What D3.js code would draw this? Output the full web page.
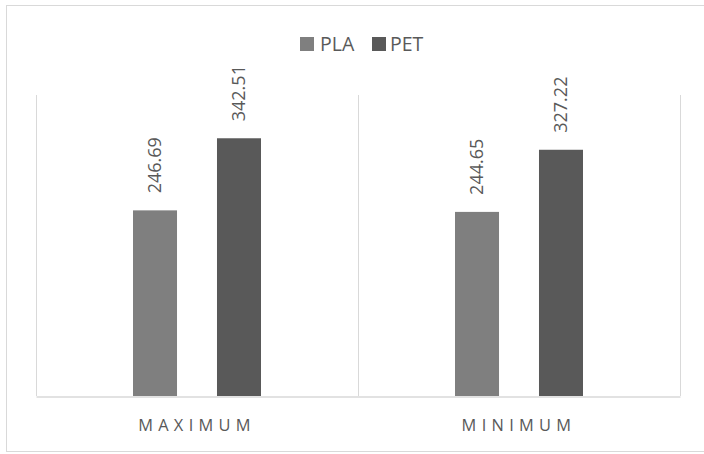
<!DOCTYPE html>
<html>
<head>
<meta charset="utf-8">
<script src="https://cdn.jsdelivr.net/npm/d3@7"></script>
<style>
  body { margin: 0; background: #fff; }
  svg { display: block; font-family: "Open Sans", sans-serif; }
</style>
</head>
<body>
<div id="chart"></div>
<script>
// Data
const categories = ["MAXIMUM", "MINIMUM"];
const seriesNames = ["PLA", "PET"];
const plaValues = [246.69, 244.65];
const petValues = [342.51, 327.22];
const seriesColors = ["#7f7f7f", "#595959"];

const svgWidth = 704, svgHeight = 454;
const plot = { left: 36, right: 680, top: 95, bottom: 396 };

const svg = d3.select("#chart")
    .append("svg")
    .attr("width", svgWidth)
    .attr("height", svgHeight);

// Outer chart border
svg.append("rect")
    .attr("x", 6.5)
    .attr("y", 5.5)
    .attr("width", 710)
    .attr("height", 446)
    .attr("fill", "none")
    .attr("stroke", "#d9d9d9");

// Build rows from the arrays
const rows = categories.map((c, i) => ({
    category: c,
    values: [
        { key: "PLA", value: plaValues[i] },
        { key: "PET", value: petValues[i] }
    ]
}));

// Scales
const x0 = d3.scaleBand()
    .domain(categories)
    .range([plot.left, plot.right])
    .padding(0);

const x1 = d3.scaleBand()
    .domain(seriesNames)
    .range([0, x0.bandwidth()])
    .paddingInner(0.476)
    .paddingOuter(1.155);

const y = d3.scaleLinear()
    .domain([0, 400])
    .range([plot.bottom, plot.top]);

const color = d3.scaleOrdinal()
    .domain(seriesNames)
    .range(seriesColors);

// Vertical separators between categories
const sepX = categories.map(c => x0(c)).concat([plot.right]);
svg.append("g")
    .selectAll("line")
    .data(sepX)
    .enter().append("line")
    .attr("x1", d => Math.round(d) + 0.5)
    .attr("x2", d => Math.round(d) + 0.5)
    .attr("y1", y(400))
    .attr("y2", y(0))
    .attr("stroke", "#d9d9d9")
    .attr("stroke-width", 1);

// Bars
const groups = svg.append("g")
    .selectAll("g")
    .data(rows)
    .enter().append("g")
    .attr("transform", d => `translate(${x0(d.category)},0)`);

groups.selectAll("rect")
    .data(d => d.values)
    .enter().append("rect")
    .attr("x", d => x1(d.key))
    .attr("y", d => y(d.value))
    .attr("width", x1.bandwidth())
    .attr("height", d => y(0) - y(d.value))
    .attr("fill", d => color(d.key));

// Data labels (rotated)
groups.selectAll("text")
    .data(d => d.values)
    .enter().append("text")
    .attr("transform", d => `translate(${x1(d.key) + x1.bandwidth() / 2}, ${y(d.value) - 17}) rotate(-90)`)
    .attr("dy", "0.36em")
    .attr("text-anchor", "start")
    .attr("font-size", 18)
    .attr("fill", "#595959")
    .text(d => d.value.toFixed(2));

// Category axis
const xAxis = svg.append("g")
    .attr("transform", `translate(0, ${plot.bottom + 0.5})`)
    .call(d3.axisBottom(x0).tickSize(0).tickSizeOuter(0).tickPadding(0));

xAxis.select(".domain")
    .attr("stroke", "#d9d9d9")
    .attr("stroke-width", 1.5);

xAxis.selectAll("text")
    .attr("y", 34)
    .attr("dy", 0)
    .attr("font-family", "Open Sans, sans-serif")
    .attr("font-size", 16.4)
    .attr("letter-spacing", "5.3px")
    .attr("fill", "#595959");

// Legend
const legendItems = [
    { key: "PLA", x: 300, tx: 320 },
    { key: "PET", x: 372, tx: 390 }
];
const legend = svg.append("g")
    .selectAll("g")
    .data(legendItems)
    .enter().append("g");

legend.append("rect")
    .attr("x", d => d.x)
    .attr("y", 37)
    .attr("width", 14)
    .attr("height", 14)
    .attr("fill", d => color(d.key));

legend.append("text")
    .attr("x", d => d.tx)
    .attr("y", 50.5)
    .attr("font-size", 19.5)
    .attr("fill", "#595959")
    .text(d => d.key);
</script>
</body>
</html>
